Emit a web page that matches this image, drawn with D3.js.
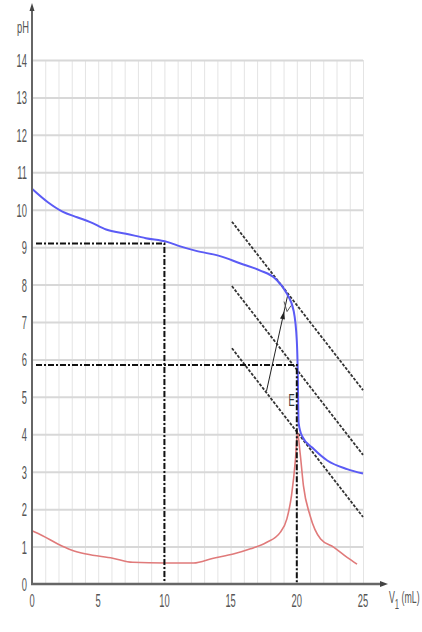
<!DOCTYPE html>
<html>
<head>
<meta charset="utf-8">
<script src="https://cdn.jsdelivr.net/npm/d3@7"></script>
<style>
  html, body { margin: 0; padding: 0; background: #fff; }
  svg { display: block; font-family: "Liberation Sans", Arial, sans-serif; }
</style>
</head>
<body>
<svg id="chart" width="422" height="632"></svg>
<script>
// titration curve pH = f(V1)
const phVol = [0, 1.2, 2.3, 3.4, 4.4, 5.6, 7.1, 8.6, 10.2, 11.2, 12.4, 14.2, 15.7, 17.2, 18.4, 19.26, 19.76, 20.0, 20.06, 20.14, 20.4, 21.3, 22.3, 23.8, 25];
const phVal = [10.56, 10.2, 9.95, 9.8, 9.67, 9.47, 9.36, 9.24, 9.14, 9.02, 8.9, 8.76, 8.57, 8.38, 8.15, 7.75, 7.3, 6.5, 5.88, 4.3, 3.95, 3.6, 3.3, 3.07, 2.95];

// derivative curve
const derVol = [0, 0.8, 1.95, 2.97, 4.1, 6.1, 7.6, 10, 12.2, 13.7, 15.2, 16.5, 17.7, 18.75, 19.25, 19.6, 19.9, 20.05, 20.25, 20.5, 21, 21.8, 22.8, 23.8, 24.55];
const derVal = [1.42, 1.29, 1.07, 0.91, 0.8, 0.69, 0.58, 0.56, 0.56, 0.69, 0.8, 0.94, 1.11, 1.38, 1.74, 2.36, 3.34, 4.05, 3.5, 2.63, 1.83, 1.2, 0.98, 0.71, 0.53];

// parallel tangents (start / end)
const tangentVol = [15.1, 25];
const tangentTop = [9.68, 5.18];
const tangentMid = [7.96, 3.45];
const tangentLow = [6.3, 1.79];

// segment between the two outer tangents
const segVol = [19.34, 17.71];
const segPH = [7.76, 5.15];

// reading lines
const halfEq = { v: 10, ph: 9.1 };
const equiv = { v: 20, ph: 5.85 };

const volTicks = [0, 5, 10, 15, 20, 25];
const phTicks = d3.range(0, 15);

const svg = d3.select('#chart');

const x = d3.scaleLinear().domain([0, 25]).range([32, 363]);
const y = d3.scaleLinear().domain([0, 14]).range([584, 60]);

// grid
svg.append('g')
  .attr('transform', `translate(0,${y(0)})`)
  .call(d3.axisBottom(x).tickValues(d3.range(1, 26)).tickSize(-(y(0) - y(14))).tickFormat(''))
  .call(g => g.select('.domain').remove())
  .call(g => g.selectAll('line').attr('stroke', '#e4e4e4').attr('stroke-width', 1));

svg.append('g')
  .attr('transform', `translate(${x(0)},0)`)
  .call(d3.axisLeft(y).tickValues(d3.range(1, 15)).tickSize(-(x(25) - x(0))).tickFormat(''))
  .call(g => g.select('.domain').remove())
  .call(g => g.selectAll('line').attr('stroke', '#d8d8d8').attr('stroke-width', 2));

// tangents
const tangentLine = d3.line().x(d => x(d[0])).y(d => y(d[1]));
[tangentTop, tangentMid, tangentLow].forEach(t => {
  svg.append('path')
    .attr('d', tangentLine(tangentVol.map((v, i) => [v, t[i]])))
    .attr('fill', 'none')
    .attr('stroke', '#333')
    .attr('stroke-width', 1.8)
    .attr('stroke-dasharray', '3,1.5');
});

// segment with small arrow marks
const seg = segVol.map((v, i) => [x(v), y(segPH[i])]);
svg.append('line')
  .attr('x1', seg[0][0]).attr('y1', seg[0][1])
  .attr('x2', seg[1][0]).attr('y2', seg[1][1])
  .attr('stroke', '#222').attr('stroke-width', 1);
const segAng = Math.atan2(seg[1][1] - seg[0][1], seg[1][0] - seg[0][0]) * 180 / Math.PI;
[0.22].forEach(f => {
  const px = seg[0][0] + f * (seg[1][0] - seg[0][0]);
  const py = seg[0][1] + f * (seg[1][1] - seg[0][1]);
  svg.append('path')
    .attr('d', 'M-4,-2.5L4,0L-4,2.5Z')
    .attr('transform', `translate(${px},${py}) rotate(${segAng + 180})`)
    .attr('fill', '#222');
});
svg.append('path')
  .attr('d', `M${seg[0][0] - 4},${seg[0][1] + 8}L${seg[0][0] - 1},${seg[0][1] + 18}L${seg[0][0] + 3},${seg[0][1] + 12}`)
  .attr('fill', 'none').attr('stroke', '#555').attr('stroke-width', 1);

// curves
const curve = d3.line().x(d => x(d[0])).y(d => y(d[1])).curve(d3.curveMonotoneX);

svg.append('path')
  .attr('d', curve(derVol.map((v, i) => [v, derVal[i]])))
  .attr('fill', 'none')
  .attr('stroke', '#e07a7a')
  .attr('stroke-width', 1.6);

svg.append('path')
  .attr('d', curve(phVol.map((v, i) => [v, phVal[i]])))
  .attr('fill', 'none')
  .attr('stroke', '#5b5bf5')
  .attr('stroke-width', 2);

// reading lines
[halfEq, equiv].forEach(p => {
  svg.append('path')
    .attr('d', `M${x(0) + 4},${y(p.ph)}H${x(p.v)}V${y(0)}`)
    .attr('fill', 'none')
    .attr('stroke', '#111')
    .attr('stroke-width', 2)
    .attr('stroke-dasharray', '6,2,2,2');
});

// axes
svg.append('line')
  .attr('x1', x(0)).attr('y1', y(0) + 1).attr('x2', x(0)).attr('y2', 10)
  .attr('stroke', '#666').attr('stroke-width', 2);
svg.append('path').attr('d', `M${x(0) - 2.5},11L${x(0)},3L${x(0) + 2.5},11Z`).attr('fill', '#444');

svg.append('line')
  .attr('x1', x(0) - 1).attr('y1', y(0)).attr('x2', 381).attr('y2', y(0))
  .attr('stroke', '#666').attr('stroke-width', 2.5);
svg.append('path').attr('d', `M380,${y(0) - 3}L388,${y(0)}L380,${y(0) + 3}Z`).attr('fill', '#444');

// tick labels
svg.append('g').selectAll('text')
  .data(phTicks)
  .enter().append('text')
  .attr('transform', d => `translate(27,${y(d) + 7}) scale(0.52,1)`)
  .attr('text-anchor', 'end')
  .attr('font-size', 18)
  .attr('fill', '#555')
  .text(d => d);

svg.append('g').selectAll('text')
  .data(volTicks)
  .enter().append('text')
  .attr('transform', d => `translate(${x(d)},${607}) scale(0.52,1)`)
  .attr('text-anchor', 'middle')
  .attr('font-size', 18)
  .attr('fill', '#555')
  .text(d => d);

svg.append('text')
  .attr('transform', 'translate(23,33) scale(0.55,1)')
  .attr('text-anchor', 'middle')
  .attr('font-size', 17)
  .attr('fill', '#555')
  .text('pH');

const vLabel = svg.append('text')
  .attr('transform', 'translate(389,603) scale(0.55,1)')
  .attr('font-size', 16)
  .attr('fill', '#555');
vLabel.append('tspan').text('V');
vLabel.append('tspan').attr('dy', 6).attr('font-size', 14).text('1');
vLabel.append('tspan').attr('dy', -6).text(' (mL)');

svg.append('text')
  .attr('transform', `translate(${x(equiv.v) - 2},${y(5) + 9}) scale(0.55,1)`)
  .attr('text-anchor', 'end')
  .attr('font-size', 17)
  .attr('fill', '#333')
  .text('E');
</script>
</body>
</html>
